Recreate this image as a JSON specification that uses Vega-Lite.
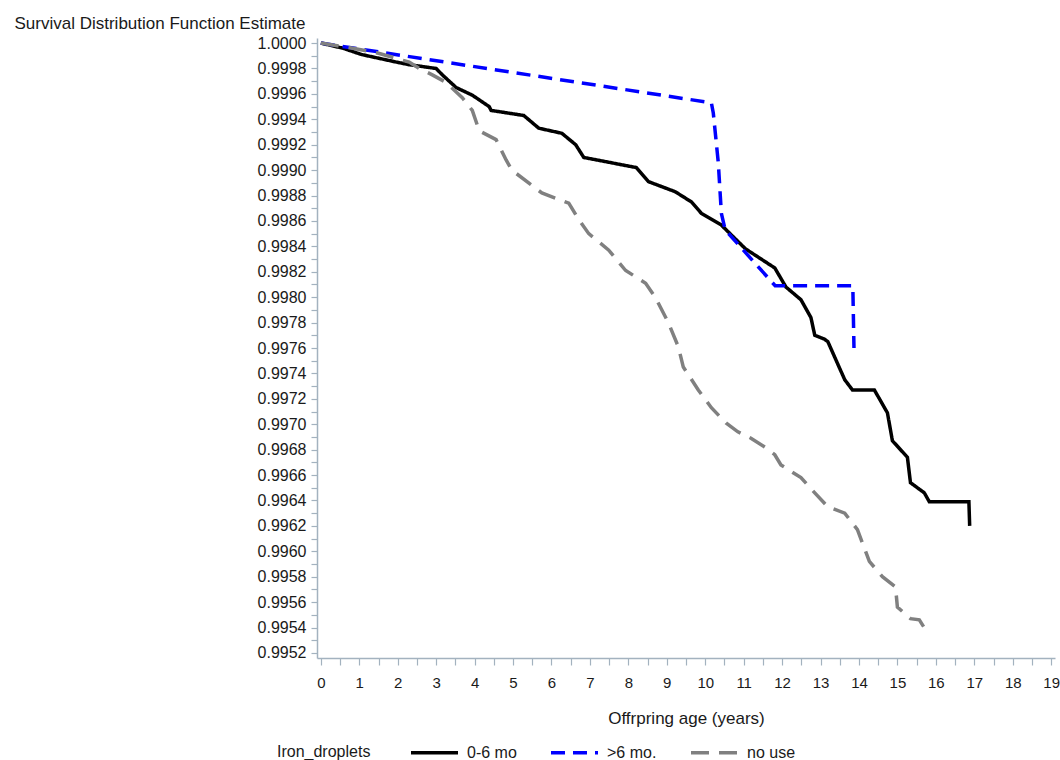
{
  "$schema": "https://vega.github.io/schema/vega-lite/v6.json",
  "width": 738,
  "height": 620,
  "autosize": {"type": "none"},
  "padding": {"left": 317, "top": 38, "right": 5, "bottom": 102},
  "background": "white",
  "config": {
    "font": "Liberation Sans",
    "view": {"stroke": null},
    "axis": {
      "grid": false,
      "domainColor": "#a3b2bf",
      "tickColor": "#a3b2bf",
      "domainWidth": 1.5,
      "tickWidth": 1.2,
      "labelColor": "#1a1a1a",
      "titleColor": "#1a1a1a",
      "labelFont": "Liberation Sans",
      "titleFont": "Liberation Sans",
      "labelFontSize": 16,
      "titleFontSize": 17,
      "titleFontWeight": "normal"
    },
    "legend": {
      "labelFont": "Liberation Sans",
      "titleFont": "Liberation Sans",
      "labelFontSize": 16,
      "titleFontSize": 16,
      "titleFontWeight": "normal",
      "labelColor": "#1a1a1a",
      "titleColor": "#1a1a1a"
    }
  },
  "data": {
    "values": [
      {"group": "0-6 mo", "t": 0, "s": 1.0},
      {"group": "0-6 mo", "t": 0.57, "s": 0.99996},
      {"group": "0-6 mo", "t": 1.06, "s": 0.99991},
      {"group": "0-6 mo", "t": 1.97, "s": 0.99985},
      {"group": "0-6 mo", "t": 2.3, "s": 0.99983},
      {"group": "0-6 mo", "t": 3.0, "s": 0.9998},
      {"group": "0-6 mo", "t": 3.16, "s": 0.99975},
      {"group": "0-6 mo", "t": 3.52, "s": 0.99965},
      {"group": "0-6 mo", "t": 3.94, "s": 0.99959},
      {"group": "0-6 mo", "t": 4.38, "s": 0.9995},
      {"group": "0-6 mo", "t": 4.43, "s": 0.99947},
      {"group": "0-6 mo", "t": 5.28, "s": 0.99943},
      {"group": "0-6 mo", "t": 5.67, "s": 0.99933},
      {"group": "0-6 mo", "t": 6.27, "s": 0.99929},
      {"group": "0-6 mo", "t": 6.63, "s": 0.9992},
      {"group": "0-6 mo", "t": 6.84, "s": 0.9991},
      {"group": "0-6 mo", "t": 8.21, "s": 0.99902},
      {"group": "0-6 mo", "t": 8.52, "s": 0.99891},
      {"group": "0-6 mo", "t": 9.22, "s": 0.99883},
      {"group": "0-6 mo", "t": 9.64, "s": 0.99875},
      {"group": "0-6 mo", "t": 9.9, "s": 0.99866},
      {"group": "0-6 mo", "t": 10.41, "s": 0.99857},
      {"group": "0-6 mo", "t": 11.05, "s": 0.99838},
      {"group": "0-6 mo", "t": 11.81, "s": 0.99823},
      {"group": "0-6 mo", "t": 12.1, "s": 0.99808},
      {"group": "0-6 mo", "t": 12.49, "s": 0.99798},
      {"group": "0-6 mo", "t": 12.75, "s": 0.99784},
      {"group": "0-6 mo", "t": 12.85, "s": 0.9977},
      {"group": "0-6 mo", "t": 13.1, "s": 0.99767},
      {"group": "0-6 mo", "t": 13.19, "s": 0.99765},
      {"group": "0-6 mo", "t": 13.63, "s": 0.99735},
      {"group": "0-6 mo", "t": 13.83, "s": 0.99727},
      {"group": "0-6 mo", "t": 14.4, "s": 0.99727},
      {"group": "0-6 mo", "t": 14.74, "s": 0.99709},
      {"group": "0-6 mo", "t": 14.87, "s": 0.99687},
      {"group": "0-6 mo", "t": 15.26, "s": 0.99674},
      {"group": "0-6 mo", "t": 15.34, "s": 0.99654},
      {"group": "0-6 mo", "t": 15.7, "s": 0.99646},
      {"group": "0-6 mo", "t": 15.83, "s": 0.99639},
      {"group": "0-6 mo", "t": 16.86, "s": 0.99639},
      {"group": "0-6 mo", "t": 16.88, "s": 0.9962},
      {"group": ">6 mo.", "t": 0, "s": 1.0},
      {"group": ">6 mo.", "t": 10.16, "s": 0.99953},
      {"group": ">6 mo.", "t": 10.21, "s": 0.99945},
      {"group": ">6 mo.", "t": 10.34, "s": 0.99906},
      {"group": ">6 mo.", "t": 10.42, "s": 0.99866},
      {"group": ">6 mo.", "t": 10.52, "s": 0.99853},
      {"group": ">6 mo.", "t": 11.82, "s": 0.99809},
      {"group": ">6 mo.", "t": 13.84, "s": 0.99809},
      {"group": ">6 mo.", "t": 13.87, "s": 0.9976},
      {"group": "no use", "t": 0, "s": 1.0},
      {"group": "no use", "t": 0.83, "s": 0.99996},
      {"group": "no use", "t": 1.5, "s": 0.99992},
      {"group": "no use", "t": 2.3, "s": 0.99985},
      {"group": "no use", "t": 2.56, "s": 0.9998},
      {"group": "no use", "t": 2.9, "s": 0.99975},
      {"group": "no use", "t": 3.26, "s": 0.99969},
      {"group": "no use", "t": 3.68, "s": 0.99957},
      {"group": "no use", "t": 3.94, "s": 0.99947},
      {"group": "no use", "t": 4.12, "s": 0.99931},
      {"group": "no use", "t": 4.56, "s": 0.99924},
      {"group": "no use", "t": 4.82, "s": 0.99908},
      {"group": "no use", "t": 4.97, "s": 0.999},
      {"group": "no use", "t": 5.49, "s": 0.99888},
      {"group": "no use", "t": 5.75, "s": 0.99882},
      {"group": "no use", "t": 6.45, "s": 0.99874},
      {"group": "no use", "t": 6.71, "s": 0.99861},
      {"group": "no use", "t": 6.97, "s": 0.9985},
      {"group": "no use", "t": 7.49, "s": 0.99837},
      {"group": "no use", "t": 7.93, "s": 0.99821},
      {"group": "no use", "t": 8.45, "s": 0.99811},
      {"group": "no use", "t": 8.7, "s": 0.998},
      {"group": "no use", "t": 9.04, "s": 0.9978},
      {"group": "no use", "t": 9.3, "s": 0.99761},
      {"group": "no use", "t": 9.43, "s": 0.99745},
      {"group": "no use", "t": 9.82, "s": 0.99727},
      {"group": "no use", "t": 10.16, "s": 0.99713},
      {"group": "no use", "t": 10.54, "s": 0.99701},
      {"group": "no use", "t": 10.85, "s": 0.99694},
      {"group": "no use", "t": 11.19, "s": 0.99689},
      {"group": "no use", "t": 11.55, "s": 0.99682},
      {"group": "no use", "t": 11.81, "s": 0.99676},
      {"group": "no use", "t": 11.97, "s": 0.99668},
      {"group": "no use", "t": 12.49, "s": 0.99658},
      {"group": "no use", "t": 12.85, "s": 0.99646},
      {"group": "no use", "t": 13.19, "s": 0.99635},
      {"group": "no use", "t": 13.63, "s": 0.9963},
      {"group": "no use", "t": 13.96, "s": 0.99617},
      {"group": "no use", "t": 14.27, "s": 0.99592},
      {"group": "no use", "t": 14.61, "s": 0.9958},
      {"group": "no use", "t": 14.95, "s": 0.99572},
      {"group": "no use", "t": 15.0, "s": 0.99556},
      {"group": "no use", "t": 15.34, "s": 0.99547},
      {"group": "no use", "t": 15.57, "s": 0.99546},
      {"group": "no use", "t": 15.78, "s": 0.99536}
    ]
  },
  "mark": {"type": "line", "strokeWidth": 3.5, "strokeCap": "butt", "strokeJoin": "miter", "clip": true},
  "encoding": {
    "x": {
      "field": "t",
      "type": "quantitative",
      "scale": {"domain": [-0.1, 19.1], "nice": false, "zero": false},
      "axis": {
        "title": "Offrpring age (years)",
        "values": [0,0.5,1,1.5,2,2.5,3,3.5,4,4.5,5,5.5,6,6.5,7,7.5,8,8.5,9,9.5,10,10.5,11,11.5,12,12.5,13,13.5,14,14.5,15,15.5,16,16.5,17,17.5,18,18.5,19],
        "labelExpr": "datum.value % 1 != 0 ? '' : format(datum.value, 'd')",
        "labelFontSize": 15,
        "tickSize": 7,
        "labelPadding": 10,
        "titleY": 60,
        "titleBaseline": "middle",
        "labelFlush": false,
        "labelOverlap": false
      }
    },
    "y": {
      "field": "s",
      "type": "quantitative",
      "scale": {"domain": [0.99516, 1.00004], "nice": false, "zero": false},
      "axis": {
        "title": "Survival Distribution Function Estimate",
        "titleAngle": 0,
        "titleAlign": "right",
        "titleBaseline": "middle",
        "titleX": -12,
        "titleY": -15,
        "values": [0.9952,0.9953,0.9954,0.9955,0.9956,0.9957,0.9958,0.9959,0.996,0.9961,0.9962,0.9963,0.9964,0.9965,0.9966,0.9967,0.9968,0.9969,0.997,0.9971,0.9972,0.9973,0.9974,0.9975,0.9976,0.9977,0.9978,0.9979,0.998,0.9981,0.9982,0.9983,0.9984,0.9985,0.9986,0.9987,0.9988,0.9989,0.999,0.9991,0.9992,0.9993,0.9994,0.9995,0.9996,0.9997,0.9998,0.9999,1.0],
        "labelExpr": "round(datum.value * 10000) % 2 == 1 ? '' : format(datum.value, '.4f')",
        "tickSize": 6,
        "labelPadding": 5,
        "labelFlush": false,
        "labelOverlap": false
      }
    },
    "color": {
      "field": "group",
      "type": "nominal",
      "scale": {"domain": ["0-6 mo", ">6 mo.", "no use"], "range": ["#000000", "#0000ff", "#808080"]},
      "legend": {
        "title": "Iron_droplets",
        "orient": "none",
        "legendX": -40,
        "legendY": 689,
        "direction": "horizontal",
        "titleOrient": "left",
        "titleAnchor": "middle",
        "titleBaseline": "top",
        "titlePadding": 38,
        "symbolType": "stroke",
        "symbolSize": 2209,
        "symbolStrokeWidth": 3.5,
        "labelOffset": 7,
        "columnPadding": 27
      }
    },
    "strokeDash": {
      "field": "group",
      "type": "nominal",
      "scale": {"domain": ["0-6 mo", ">6 mo.", "no use"], "range": [[1, 0], [14, 8], [18, 10]]},
      "legend": {
        "title": "Iron_droplets",
        "orient": "none",
        "legendX": -40,
        "legendY": 689,
        "direction": "horizontal",
        "titleOrient": "left",
        "titleAnchor": "middle",
        "titleBaseline": "top",
        "titlePadding": 38,
        "symbolType": "stroke",
        "symbolSize": 2209,
        "symbolStrokeWidth": 3.5,
        "labelOffset": 7,
        "columnPadding": 27
      }
    }
  }
}
